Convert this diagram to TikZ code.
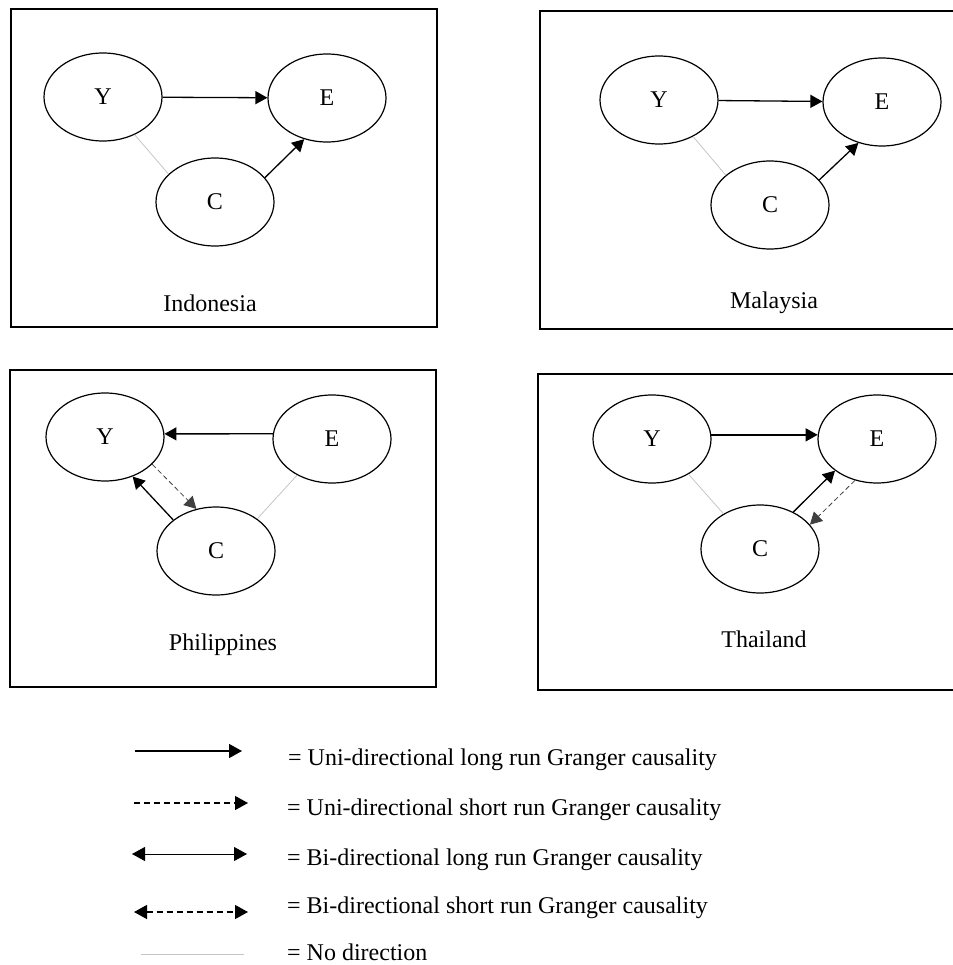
\documentclass[tikz,border=0pt]{standalone}
\usepackage{fontspec}
\setmainfont{Liberation Serif}
\usetikzlibrary{shapes.geometric,arrows.meta,positioning}

\begin{document}
\begin{tikzpicture}[x=1pt, y=-1pt, font=\fontsize{24}{28}\selectfont,
  var/.style = {draw, ellipse, line width=1.2pt, minimum width=118pt, minimum height=88pt, inner sep=0pt},
  panel/.style = {draw, line width=1.2pt},
  longrun/.style = {-{Triangle[length=12pt, width=13pt]}, line width=1.3pt},
  shortrun/.style = {-{Triangle[length=12pt, width=13pt]}, line width=0.8pt, dash pattern=on 5pt off 3pt, black!75},
  nodir/.style = {gray!45, line width=0.8pt},
  keylong/.style = {{Triangle[length=13pt, width=14pt]}-{Triangle[length=13pt, width=14pt]}, line width=1pt},
  keydash/.style = {dash pattern=on 6pt off 4pt, line width=1.3pt}]
\useasboundingbox (0,0) rectangle (952,965);

% Indonesia
\draw[panel] (11,9) rectangle (437,327);
\node[var] (y1) at (103,97) {Y};
\node[var] (e1) at (327,98) {E};
\node[var] (c1) at (215,202) {C};
\node[anchor=base] (l1) at (210,311) {Indonesia};
\draw[longrun] (y1) -- (e1);
\draw[longrun] (c1.26) -- (e1.241);
\draw[nodir] (y1.-50) -- (c1.149);

% Malaysia
\draw[panel] (540,11) rectangle (955,329);
\node[var] (y2) at (659,100) {Y};
\node[var] (e2) at (882,102) {E};
\node[var] (c2) at (770,205) {C};
\node[anchor=base] (l2) at (774,308) {Malaysia};
\draw[longrun] (y2) -- (e2);
\draw[longrun] (c2.27) -- (e2.240);
\draw[nodir] (y2.-47) -- (c2.146);

% Philippines
\draw[panel] (10,370) rectangle (436,687);
\node[var] (y3) at (105,437) {Y};
\node[var] (e3) at (332,439) {E};
\node[var] (c3) at (216,551) {C};
\node[anchor=base] (l3) at (223,650) {Philippines};
\draw[longrun] (e3.175) -- (y3.3);
\draw[longrun] (c3.144) -- (y3.-55);
\draw[shortrun] (y3.-30) -- (c3.115);
\draw[nodir] (e3.226) -- (c3.38);

% Thailand
\draw[panel] (538,374) rectangle (955,690);
\node[var] (y4) at (652,439) {Y};
\node[var] (e4) at (877,439) {E};
\node[var] (c4) at (760,549) {C};
\node[anchor=base] (l4) at (764,647) {Thailand};
\draw[longrun] (y4.4) -- (e4.176);
\draw[longrun] (c4.48) -- (e4.217);
\draw[shortrun] (e4.242) -- (c4.26);
\draw[nodir] (y4.-44) -- (c4.136);

% key
\coordinate (a1) at (135,751);  \coordinate (b1) at (242,751);
\coordinate (a2) at (134,803);  \coordinate (b2) at (248,803);
\coordinate (a3) at (132,854);  \coordinate (b3) at (247,854);
\coordinate (a4) at (134,912);  \coordinate (b4) at (248,912);
\coordinate (a5) at (141,954);  \coordinate (b5) at (244,954);
\draw[-{Triangle[length=13pt, width=14pt]}, line width=1.4pt] (a1) -- (b1);
\draw[-{Triangle[length=13pt, width=14pt]}, keydash] (a2) -- (b2);
\draw[keylong] (a3) -- (b3);
\draw[keylong, keydash] (a4) -- (b4);
\draw[nodir, line width=1pt] (a5) -- (b5);
\node[anchor=base west, inner sep=0pt] (t1) at (288,765) {= Uni-directional long run Granger causality};
\node[anchor=base west, inner sep=0pt] (t2) at (287,815) {= Uni-directional short run Granger causality};
\node[anchor=base west, inner sep=0pt] (t3) at (287,865) {= Bi-directional long run Granger causality};
\node[anchor=base west, inner sep=0pt] (t4) at (287,913) {= Bi-directional short run Granger causality};
\node[anchor=base west, inner sep=0pt] (t5) at (287,960) {= No direction};
\end{tikzpicture}
\end{document}
